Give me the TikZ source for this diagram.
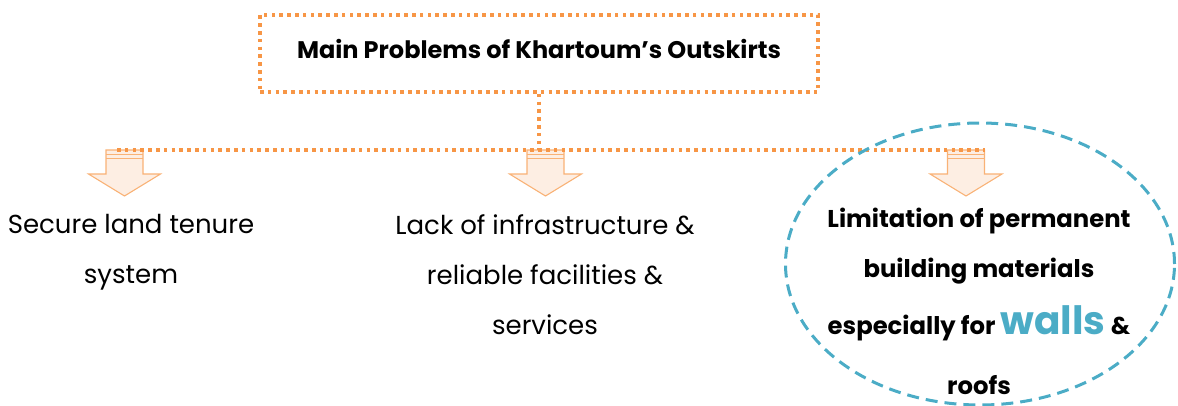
\documentclass[tikz,border=0pt]{standalone}
\usepackage{fontspec}
\setmainfont{Poppins}
\usepackage{xcolor}
\usepackage{tikz}
\usetikzlibrary{shapes.geometric, positioning, calc}
\definecolor{myorange}{RGB}{247,150,70}
\definecolor{arrowline}{RGB}{249,178,118}
\definecolor{arrowfill}{RGB}{253,238,227}
\definecolor{myteal}{RGB}{75,172,198}
\definecolor{mydark}{RGB}{0,0,0}
\tikzset{
  dotline/.style={draw=myorange, line width=3.6pt, dash pattern=on 3.6pt off 4.2pt},
  titlebox/.style={rectangle, dotline, minimum width=558pt, minimum height=77pt,
    inner sep=0pt, font=\fontsize{24}{28}\selectfont\bfseries},
  blockarrow/.style={draw=arrowline, fill=arrowfill, line width=1.1pt, line join=miter},
  topstripe/.style={draw=arrowline, line width=1.4pt},
  plaintext/.style={align=center, font=\fontsize{26}{50}\selectfont, inner sep=0pt, anchor=north},
  boldtext/.style={align=center, font=\fontsize{24.3}{50}\selectfont\bfseries, inner sep=0pt, anchor=north},
  limitoval/.style={ellipse, draw=myteal, line width=3pt, dash pattern=on 12pt off 7pt,
    minimum width=389pt, minimum height=282pt, inner sep=0pt}
}

\begin{document}
\begin{tikzpicture}[x=1pt, y=-1pt]
  \useasboundingbox (0,0) rectangle (1178,406);

  % Title box
  \node[titlebox] (title) at (539,53.5) {\raisebox{8.5pt}{Main Problems of Khartoum’s Outskirts}};

  % Block arrows under the branch line
  \foreach \n/\x in {1/124.5, 2/545.5, 3/966} {
    \coordinate (arr\n) at (\x,150);
    \draw[blockarrow] (\x-18.5,150) -- (\x+18.5,150) -- (\x+18.5,174) -- (\x+36,174)
      -- (\x,196) -- (\x-36,174) -- (\x-18.5,174) -- cycle;
    \draw[topstripe] (\x-18.5,154.5) -- (\x+18.5,154.5);
    \draw[topstripe] (\x-18.5,158.5) -- (\x+18.5,158.5);
  }

  % Branch lines
  \coordinate (hub) at (title.south |- arr2);
  \draw[dotline] (title.south) -- (hub);
  \draw[dotline] ([xshift=-7.5pt]arr1) -- ([xshift=19pt]arr3);

  % Oval round the third problem
  \node[limitoval] (oval) at (980,264) {};

  % Problem texts
  \node[plaintext] (tenure) at (131,214) {Secure land tenure\\system};
  \node[plaintext] (infra) at (545,214) {Lack of infrastructure \&\\reliable facilities \&\\services};
  \node[boldtext] (materials) at (979,208) {Limitation of permanent\\building materials\\[7pt]
    especially for {\fontsize{39}{44}\selectfont\color{myteal}walls} \&\\[10pt]roofs};
\end{tikzpicture}
\end{document}
